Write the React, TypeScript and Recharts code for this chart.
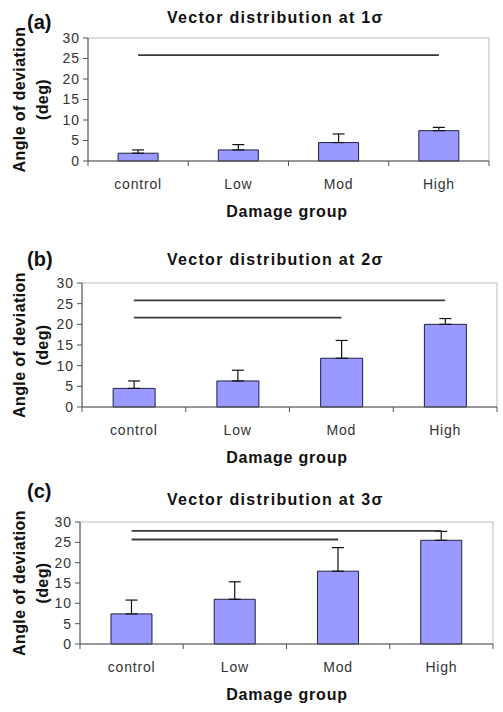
import React from "react";
import {
  ComposedChart,
  Bar,
  Line,
  XAxis,
  YAxis,
  ErrorBar,
  ReferenceArea,
} from "recharts";

const groups = ["control", "Low", "Mod", "High"];
const yTicks = [0, 5, 10, 15, 20, 25, 30];

// panel (a) – 1 sigma
const meanA = [1.9, 2.7, 4.5, 7.4];
const errA = [0.8, 1.3, 2.1, 0.8];
const sigA1 = [25.8, null, null, 25.8];

// panel (b) – 2 sigma
const meanB = [4.5, 6.3, 11.8, 20.0];
const errB = [1.8, 2.6, 4.3, 1.4];
const sigB1 = [25.8, null, null, 25.8];
const sigB2 = [21.6, null, 21.6, null];

// panel (c) – 3 sigma
const meanC = [7.4, 11.0, 17.9, 25.5];
const errC = [3.4, 4.3, 5.8, 2.2];
const sigC1 = [27.8, null, null, 27.8];
const sigC2 = [25.7, null, 25.7, null];

const FONT = "'Liberation Sans', Arial, sans-serif";
const W = 503;

type Box = {
  top: number; h: number; left: number; right: number; pTop: number; pBottom: number;
  titleY: number; letterY: number;
};

function rows(means: number[], errs: number[], sigs: (number | null)[][]) {
  return groups.map((g, i) => {
    const r: any = { group: g, mean: means[i], err: [0, errs[i]] };
    sigs.forEach((s, k) => (r["sig" + k] = s[i]));
    return r;
  });
}

function Panel({ letter, title, means, errs, sigs, box }: {
  letter: string; title: string; means: number[]; errs: number[]; sigs: (number | null)[][]; box: Box;
}) {
  const data = rows(means, errs, sigs);
  const bw = (box.right - box.left) / groups.length;
  const midY = (box.pTop + box.pBottom) / 2;

  const XTick = (props: any) => {
    const { x, y, payload } = props;
    const last = payload.value === groups[groups.length - 1];
    return (
      <g>
        <line x1={x - bw / 2} x2={x - bw / 2} y1={y} y2={y + 5} stroke="#555" />
        {last && <line x1={x + bw / 2} x2={x + bw / 2} y1={y} y2={y + 5} stroke="#555" />}
        <text x={x} y={y + 28} textAnchor="middle" fontSize={14} fill="#333" letterSpacing={0.8} fontFamily={FONT}>
          {payload.value}
        </text>
      </g>
    );
  };

  return (
    <div style={{ position: "absolute", left: 0, top: box.top, width: W, height: box.h }}>
      <ComposedChart
        width={W}
        height={box.h}
        data={data}
        barCategoryGap="30%"
        margin={{ top: box.pTop, right: W - box.right, left: 0, bottom: box.h - box.pBottom - 30 }}
      >
        <ReferenceArea y1={0} y2={30} fill="none" stroke="#bbb" strokeWidth={1} ifOverflow="visible" />
        <XAxis
          dataKey="group"
          height={30}
          tickSize={0}
          tickMargin={0}
          tickLine={false}
          axisLine={{ stroke: "#555" }}
          tick={XTick}
          interval={0}
        />
        <YAxis
          width={box.left}
          domain={[0, 30]}
          ticks={yTicks}
          interval={0}
          tickSize={5}
          tickMargin={3}
          axisLine={{ stroke: "#555" }}
          tickLine={{ stroke: "#555" }}
          tick={{ fontSize: 14, fill: "#333", fontFamily: FONT, letterSpacing: 1 }}
        />
        <Bar dataKey="mean" fill="#9999ff" stroke="#222244" strokeWidth={1} isAnimationActive={false}>
          <ErrorBar dataKey="err" width={6} stroke="#111" strokeWidth={1.2} isAnimationActive={false} />
        </Bar>
        {sigs.map((_, k) => (
          <Line
            key={k}
            dataKey={"sig" + k}
            type="linear"
            stroke="#3a3a3a"
            strokeWidth={1.8}
            dot={false}
            activeDot={false}
            connectNulls
            isAnimationActive={false}
          />
        ))}
      </ComposedChart>
      <svg
        width={W}
        height={box.h}
        style={{ position: "absolute", left: 0, top: 0, pointerEvents: "none" }}
        fontFamily={FONT}
      >
        <text x={27} y={box.letterY} fontSize={20} fontWeight="bold" fill="#111">
          {letter}
        </text>
        <text x={167} y={box.titleY} fontSize={16} fontWeight="bold" fill="#111" letterSpacing={1.3}>
          {title}
        </text>
        <text
          x={25}
          y={midY}
          transform={`rotate(-90 25 ${midY})`}
          fontSize={16}
          fontWeight="bold"
          fill="#111"
          textAnchor="middle"
          letterSpacing={0.4}
        >
          Angle of deviation
        </text>
        <text
          x={48}
          y={midY}
          transform={`rotate(-90 48 ${midY})`}
          fontSize={16}
          fontWeight="bold"
          fill="#111"
          textAnchor="middle"
          letterSpacing={0.4}
        >
          (deg)
        </text>
        <text x={287} y={box.pBottom + 56} fontSize={16} fontWeight="bold" fill="#111" textAnchor="middle" letterSpacing={0.8}>
          Damage group
        </text>
      </svg>
    </div>
  );
}

export default function App() {
  return (
    <div style={{ position: "absolute", left: 0, top: 0, width: W, height: 712, background: "#fff", overflow: "hidden" }}>
      <Panel
        letter="(a)"
        title="Vector distribution at 1σ"
        means={meanA}
        errs={errA}
        sigs={[sigA1]}
        box={{ top: 0, h: 230, left: 88, right: 489, pTop: 38, pBottom: 161, titleY: 23, letterY: 29 }}
      />
      <Panel
        letter="(b)"
        title="Vector distribution at 2σ"
        means={meanB}
        errs={errB}
        sigs={[sigB1, sigB2]}
        box={{ top: 230, h: 240, left: 82, right: 497, pTop: 53, pBottom: 177, titleY: 35, letterY: 36 }}
      />
      <Panel
        letter="(c)"
        title="Vector distribution at 3σ"
        means={meanC}
        errs={errC}
        sigs={[sigC1, sigC2]}
        box={{ top: 470, h: 242, left: 80, right: 493, pTop: 52, pBottom: 174, titleY: 35, letterY: 28 }}
      />
    </div>
  );
}
